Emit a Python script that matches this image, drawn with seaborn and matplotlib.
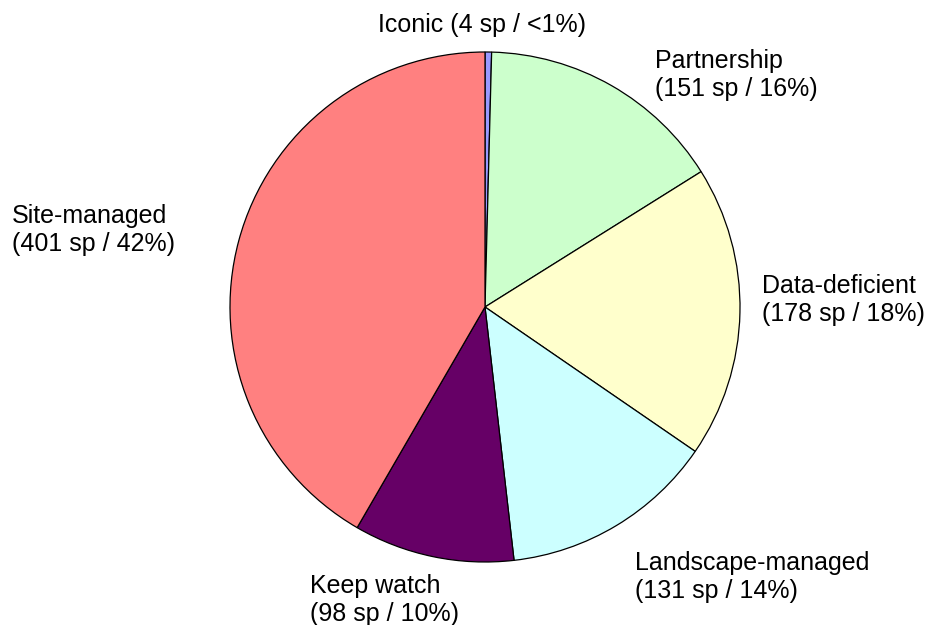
import matplotlib
matplotlib.use("Agg")
import matplotlib.pyplot as plt
import seaborn as sns

sns.set_theme(style="white")
plt.rcParams['font.family'] = ['Liberation Sans', 'DejaVu Sans']

# data
categories = ['Iconic', 'Partnership', 'Data-deficient', 'Landscape-managed', 'Keep watch', 'Site-managed']
species = [4, 151, 178, 131, 98, 401]
pct_labels = ['<1%', '16%', '18%', '14%', '10%', '42%']
colors = ['#9999FF', '#CCFFCC', '#FFFFCC', '#CCFFFF', '#660066', '#FF8080']

# label layout in pixels (x, y center, ha) and whether on one line
label_px = [(482, 25, 'center'), (655, 75, 'left'), (762, 300, 'left'),
            (635, 577, 'left'), (310, 600, 'left'), (12, 230, 'left')]
one_line = [True, False, False, False, False, False]

W, H = 929, 625
cx, cy, R = 485, 307, 255

fig = plt.figure(figsize=(W / 100, H / 100), dpi=100)
ax = fig.add_axes([0, 0, 1, 1])

ax.pie(species, colors=colors, startangle=90, counterclock=False,
       wedgeprops=dict(edgecolor='black', linewidth=0.9), radius=1)

for name, n, p, (px, py, ha), single in zip(categories, species, pct_labels, label_px, one_line):
    sep = ' ' if single else '\n'
    txt = f'{name}{sep}({n} sp / {p})'
    ax.text((px - cx) / R, (cy - py) / R, txt, ha=ha, va='center',
            multialignment='left', fontsize=18, color='black', linespacing=1.2)

ax.set_xlim(-cx / R, (W - cx) / R)
ax.set_ylim(-(H - cy) / R, cy / R)
ax.set_aspect('auto')
ax.axis('off')

fig.savefig('out.png', dpi=100, facecolor='white')
